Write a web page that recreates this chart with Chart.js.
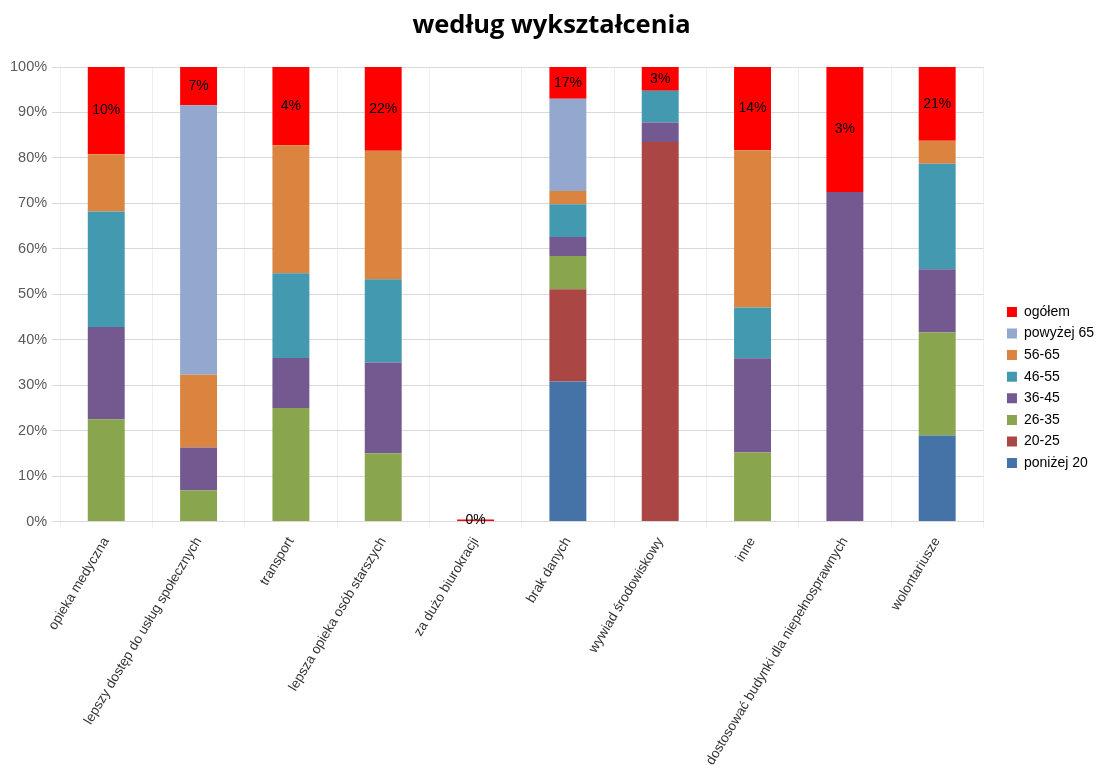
<!DOCTYPE html>
<html>
<head>
<meta charset="utf-8">
<script src="https://cdn.jsdelivr.net/npm/chart.js@4"></script>
<style>
html,body{margin:0;padding:0;background:#fff;}
#wrap{width:1104px;height:768px;overflow:hidden;}
</style>
</head>
<body>
<div id="wrap"><canvas id="c" width="1104" height="768"></canvas></div>
<script>
const categories = ['opieka medyczna', 'lepszy dostęp do usług społecznych', 'transport', 'lepsza opieka osób starszych', 'za dużo biurokracji', 'brak danych', 'wywiad środowiskowy', 'inne', 'dostosować budynki dla niepełnosprawnych', 'wolontariusze'];
const yTicks = [0, 10, 20, 30, 40, 50, 60, 70, 80, 90, 100];

const ponizej20 = [0, 0, 0, 0, 0, 30.8, 0, 0, 0, 18.9];
const s20_25    = [0, 0, 0, 0, 0, 20.3, 83.5, 0, 0, 0];
const s26_35    = [22.5, 6.8, 25, 15, 0, 7.3, 0, 15.2, 0, 22.7];
const s36_45    = [20.3, 9.5, 11, 20, 0, 4.2, 4.3, 20.7, 72.5, 13.9];
const s46_55    = [25.4, 0, 18.6, 18.3, 0, 7.2, 7, 11.2, 0, 23.2];
const s56_65    = [12.6, 16, 28.2, 28.3, 0, 2.9, 0, 34.6, 0, 5.1];
const powyzej65 = [0, 59.3, 0, 0, 0, 20.3, 0, 0, 0, 0];
const ogolem    = [19.2, 8.4, 17.2, 18.4, 0, 7, 5.2, 18.3, 27.5, 16.2];
const ogolemLabels = [10, 7, 4, 22, 0, 17, 3, 14, 3, 21];

const labelPlugin = {
  id: 'ogolemLabels',
  afterDatasetsDraw(chart) {
    const idx = chart.data.datasets.findIndex(d => d.label === 'ogółem');
    const meta = chart.getDatasetMeta(idx);
    const ctx = chart.ctx;
    ctx.save();
    ctx.font = '14px "Liberation Sans", Arial, sans-serif';
    ctx.fillStyle = '#000';
    ctx.textAlign = 'center';
    ctx.textBaseline = 'middle';
    meta.data.forEach((el, i) => {
      const cy = (el.y + el.base) / 2;
      ctx.fillText(ogolemLabels[i] + '%', el.x, cy);
    });
    ctx.restore();
  }
};

// keep a gap between plot and legend: legend reserved with right padding, then shifted back
const LEGEND_GAP = 16;
const legendShift = {
  id: 'legendShift',
  afterLayout(chart) {
    const lg = chart.legend;
    if (lg) { lg.left += LEGEND_GAP; lg.right += LEGEND_GAP; }
    const tb = chart.titleBlock;
    if (tb) { tb.left += 5; tb.right += 5; }
  }
};

const ds = (label, data, color, extra) => Object.assign({label, data, backgroundColor: color, borderWidth: 0}, extra || {});

new Chart(document.getElementById('c'), {
  type: 'bar',
  data: {
    labels: categories,
    datasets: [
      ds('poniżej 20', ponizej20, '#4572A7'),
      ds('20-25', s20_25, '#AA4644'),
      ds('26-35', s26_35, '#89A54E'),
      ds('36-45', s36_45, '#735990'),
      ds('46-55', s46_55, '#4399B0'),
      ds('56-65', s56_65, '#DB843F'),
      ds('powyżej 65', powyzej65, '#94A8CF'),
      ds('ogółem', ogolem, '#FF0000', {minBarLength: 2})
    ]
  },
  options: {
    responsive: false,
    animation: false,
    barPercentage: 0.4,
    categoryPercentage: 1.0,
    layout: {padding: {left: 5, right: LEGEND_GAP, top: 0, bottom: -7}},
    plugins: {
      title: {
        display: true,
        text: 'według wykształcenia',
        color: '#000',
        font: {family: '"Open Sans", sans-serif', size: 25.5, weight: 'bold'},
        padding: {top: 10, bottom: 26.4}
      },
      legend: {
        position: 'right',
        reverse: true,
        labels: {
          boxWidth: 10,
          boxHeight: 10,
          padding: 7.6,
          color: '#000',
          font: {family: '"Liberation Sans", Arial, sans-serif', size: 14}
        }
      },
      tooltip: {enabled: false}
    },
    scales: {
      x: {
        stacked: true,
        grid: {color: '#efefef', offset: true, tickLength: 6},
        border: {color: '#d9d9d9'},
        ticks: {
          minRotation: 59,
          maxRotation: 59,
          padding: 7,
          color: '#333',
          autoSkip: false,
          font: {family: '"Liberation Sans", Arial, sans-serif', size: 13.5}
        }
      },
      y: {
        stacked: true,
        min: 0,
        max: 100,
        afterBuildTicks(scale) { scale.ticks = yTicks.map(v => ({value: v})); },
        grid: {color: '#d9d9d9', tickLength: 8},
        border: {display: false},
        ticks: {
          padding: 5,
          color: '#595959',
          font: {family: '"Liberation Sans", Arial, sans-serif', size: 14.5},
          callback: v => v + '%'
        }
      }
    }
  },
  plugins: [labelPlugin, legendShift]
});
</script>
</body>
</html>
